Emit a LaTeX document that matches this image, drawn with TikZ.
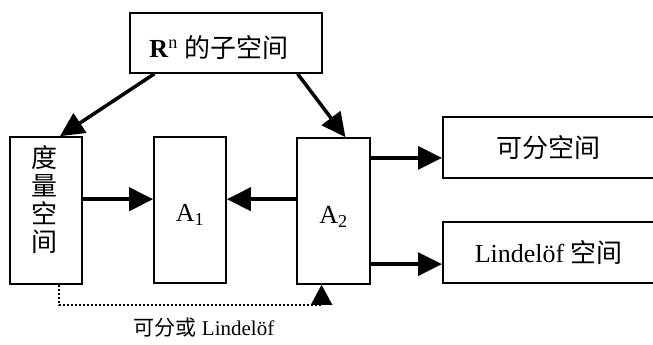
\documentclass[tikz,border=0pt]{standalone}
\usepackage{fontspec}
\setmainfont{Liberation Serif}
\newfontfamily\cjk{Noto Sans CJK SC}
\usepackage{tikz}
\usetikzlibrary{
  arrows.meta,
  positioning,
  calc
}

\begin{document}
\begin{tikzpicture}[x=1pt,y=-1pt,
  box/.style={draw,line width=1.6pt,inner sep=0pt,font=\fontsize{26}{28}\selectfont},
  arr/.style={line width=3.5pt,-{Triangle[length=24pt,width=23pt]}},
  dotarr/.style={line width=2pt,dotted,-{Triangle[length=20pt,width=21pt]}}]
\useasboundingbox (0,0) rectangle (653,345);
\clip (0,0) rectangle (653,345);

\node[box,minimum width=192pt,minimum height=60pt] (sub) at (226,43) {\raisebox{-5pt}[\height][\depth]{\textbf{R}\textsuperscript{n} {\cjk 的子空间}}\kern14pt};
\node[box,minimum width=72pt,minimum height=147pt] (metric) at (46,210.5) {};
\node[font={\cjk\fontsize{26}{28}\selectfont},align=center] (metrictxt) at (44,200) {度\\量\\空\\间};
\node[box,minimum width=72pt,minimum height=146pt] (A1) at (190,210) {\raisebox{-5pt}[\height][\depth]{A\textsubscript{1}}};
\node[box,minimum width=73pt,minimum height=146pt] (A2) at (333.5,211) {\raisebox{-6pt}[\height][\depth]{A\textsubscript{2}}};
\node[box,anchor=west,minimum width=222pt,minimum height=61pt] (sep) at (442,147.5) {\cjk 可分空间\kern10pt};
\node[box,anchor=west,minimum width=222pt,minimum height=61pt] (lind) at (442,252.5) {Lindelöf {\cjk 空间}\kern10pt};

\draw[arr] ($(sub.south west)!.13!(sub.south east)$) -- ($(metric.north west)!.69!(metric.north east)$);
\draw[arr] ($(sub.south west)!.87!(sub.south east)$) -- ($(A2.north west)!.66!(A2.north east)$);
\draw[arr] ($(A2.north west)!.42!(A2.south west)$) coordinate (mid) -- (mid -| A1.east);
\draw[arr] (mid -| metric.east) -- (mid -| A1.west);
\draw[arr] ($(A2.north east)!.14!(A2.south east)$) coordinate (up) -- (up -| sep.west);
\draw[arr] ($(A2.north east)!.86!(A2.south east)$) coordinate (dn) -- (dn -| lind.west);

% dotted return path
\draw[dotarr] ($(metric.south west)!.67!(metric.south east)$) -- ++(0,20) -| ($(A2.south west)!.34!(A2.south east)$);
\node[font=\fontsize{21}{23}\selectfont] (note) at (204,328) {{\cjk 可分或} Lindelöf};

\end{tikzpicture}
\end{document}
